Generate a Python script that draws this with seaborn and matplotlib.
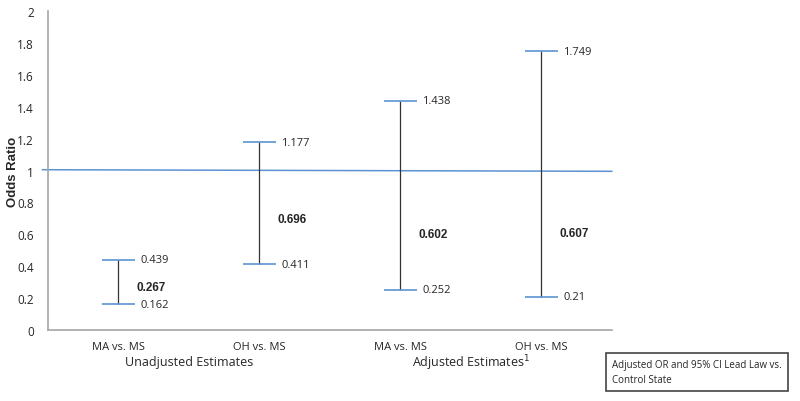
import matplotlib
matplotlib.use("Agg")
import matplotlib.pyplot as plt
import seaborn as sns
import pandas as pd

# data
comparisons = ["MA vs. MS", "OH vs. MS", "MA vs. MS", "OH vs. MS"]
groups = ["Unadjusted Estimates", "Adjusted Estimates$^{1}$"]
odds_ratio = [0.267, 0.696, 0.602, 0.607]
ci_low = [0.162, 0.411, 0.252, 0.21]
ci_high = [0.439, 1.177, 1.438, 1.749]
low_labels = ["0.162", "0.411", "0.252", "0.21"]
high_labels = ["0.439", "1.177", "1.438", "1.749"]
or_labels = ["0.267", "0.696", "0.602", "0.607"]

df = pd.DataFrame({"pos": range(4), "comp": comparisons, "or": odds_ratio,
                   "lo": ci_low, "hi": ci_high})

sns.set_style("white")
plt.rcParams["font.family"] = ["Open Sans", "DejaVu Sans"]

fig = plt.figure(figsize=(8, 4.02), dpi=100)
ax = fig.add_axes([0.06, 0.1766, 0.705, 0.7935])

blue = "#5b93d3"
# reference line at OR = 1
ax.plot([-0.54, 3.5], [1.005, 0.995], color=blue, lw=1.1, clip_on=False, zorder=1)

# whiskers and caps
ax.vlines(df["pos"], df["lo"], df["hi"], color="#333333", lw=0.9, zorder=2)
ax.hlines(df["lo"], df["pos"] - 0.12, df["pos"] + 0.12, color=blue, lw=1.2, zorder=3)
ax.hlines(df["hi"], df["pos"] - 0.12, df["pos"] + 0.12, color=blue, lw=1.2, zorder=3)

for i in range(4):
    ax.text(i + 0.155, ci_high[i], high_labels[i], fontsize=8, va="center", ha="left")
    ax.text(i + 0.155, ci_low[i], low_labels[i], fontsize=8, va="center", ha="left")
    ax.text(i + 0.13, odds_ratio[i], or_labels[i], fontsize=8.5, fontweight="bold",
            va="center", ha="left", family="Liberation Sans")

ax.set_xlim(-0.5, 3.5)
ax.set_ylim(0, 2)
ax.set_yticks([0, 0.2, 0.4, 0.6, 0.8, 1, 1.2, 1.4, 1.6, 1.8, 2])
ax.set_yticklabels(["0", "0.2", "0.4", "0.6", "0.8", "1", "1.2", "1.4", "1.6", "1.8", "2"],
                   fontsize=8.5)
ax.set_xticks(df["pos"])
ax.set_xticklabels(comparisons, fontsize=8)
ax.tick_params(axis="y", length=0, pad=10)
ax.tick_params(axis="x", length=0, pad=8)
ax.set_ylabel("Odds Ratio", fontsize=9.5, fontweight="bold", family="Liberation Sans")
ax.yaxis.set_label_coords(-0.052, 0.5)

sns.despine(ax=ax)
for s in ["left", "bottom"]:
    ax.spines[s].set_color("#a6a6a6")
    ax.spines[s].set_linewidth(1.2)

# group labels under the tick labels
for g, x in zip(groups, [0.5, 2.5]):
    ax.text(x, -0.2, g, fontsize=9, ha="center", va="center")

# caption box
fig.text(0.765, 0.072, "Adjusted OR and 95% CI Lead Law vs.\nControl State", fontsize=7,
         ha="left", va="center", linespacing=1.6,
         bbox=dict(boxstyle="square,pad=0.6", fc="white", ec="#444444", lw=1.2))

fig.savefig("out.png", dpi=100)
